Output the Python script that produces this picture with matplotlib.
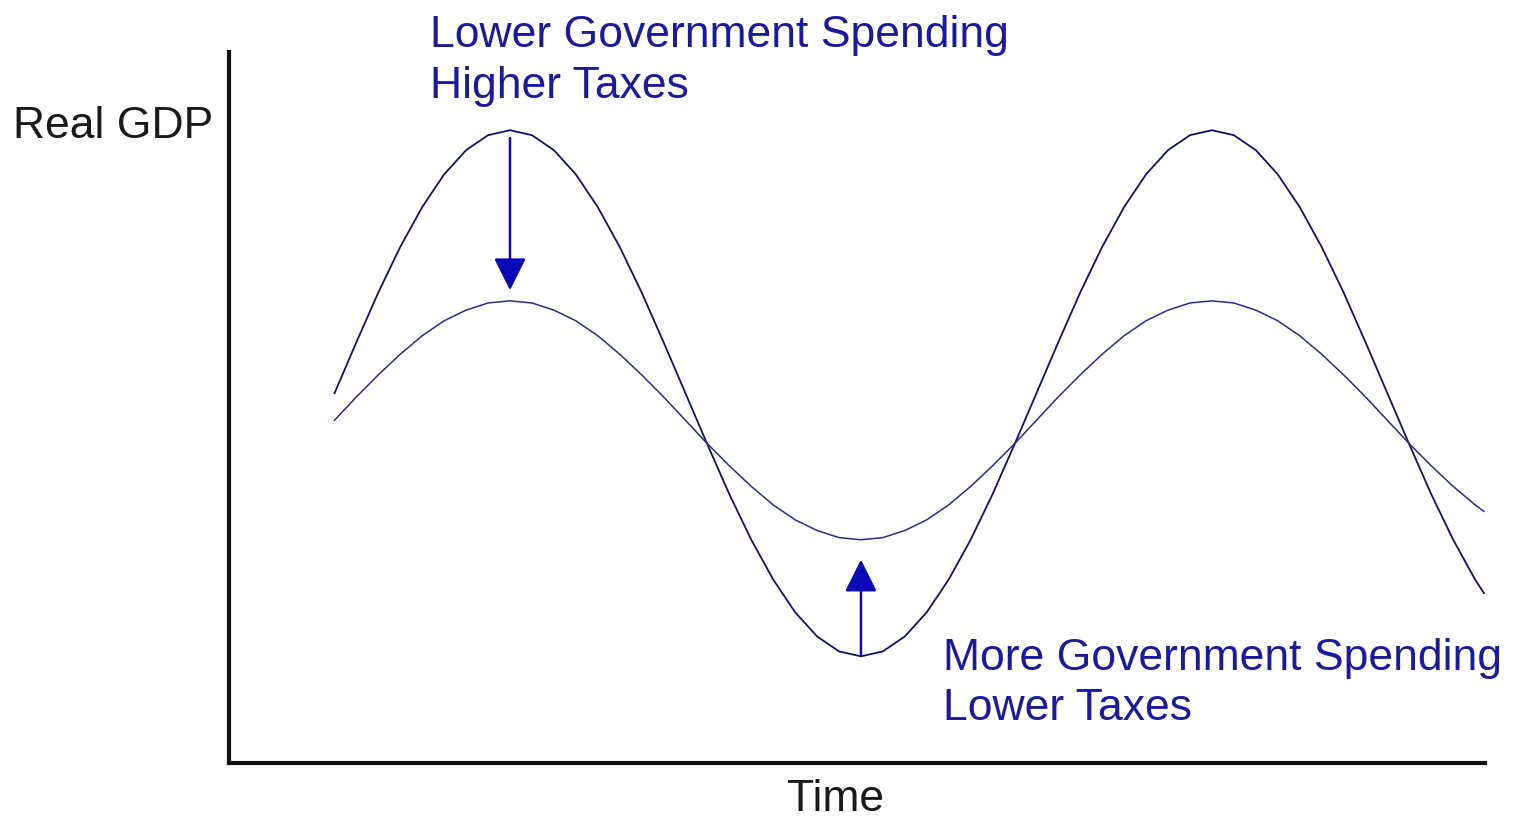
import matplotlib.pyplot as plt

# time steps (1/32 of a cycle each), last point is the right edge of the curve
time = list(range(53)) + [52.4]

# real GDP without stabilisation policy (big swings)
gdp_no_policy = [52.0, 59.2, 66.2, 72.6, 78.2, 82.8, 86.2, 88.3,
                 89.0, 88.3, 86.2, 82.8, 78.2, 72.6, 66.2, 59.2,
                 52.0, 44.8, 37.8, 31.4, 25.8, 21.2, 17.8, 15.7,
                 15.0, 15.7, 17.8, 21.2, 25.8, 31.4, 37.8, 44.8,
                 52.0, 59.2, 66.2, 72.6, 78.2, 82.8, 86.2, 88.3,
                 89.0, 88.3, 86.2, 82.8, 78.2, 72.6, 66.2, 59.2,
                 52.0, 44.8, 37.8, 31.4, 25.8, 23.9]

# real GDP with fiscal policy (smaller swings)
gdp_policy = [48.2, 51.5, 54.6, 57.5, 60.1, 62.2, 63.7, 64.7,
              65.0, 64.7, 63.7, 62.2, 60.1, 57.5, 54.6, 51.5,
              48.2, 44.9, 41.8, 38.9, 36.3, 34.2, 32.7, 31.7,
              31.4, 31.7, 32.7, 34.2, 36.3, 38.9, 41.8, 44.9,
              48.2, 51.5, 54.6, 57.5, 60.1, 62.2, 63.7, 64.7,
              65.0, 64.7, 63.7, 62.2, 60.1, 57.5, 54.6, 51.5,
              48.2, 44.9, 41.8, 38.9, 36.3, 35.4]

text_blue = '#1a1a9c'
arrow_blue = '#0a0ab8'

plt.rcParams['font.family'] = ['Liberation Sans', 'DejaVu Sans']

fig = plt.figure(figsize=(15.16, 8.17), dpi=100)
ax = fig.add_axes([229 / 1516, (817 - 763) / 817, 1256 / 1516, 711 / 817])

ax.plot(time, gdp_no_policy, color='#101068', lw=1.3)
ax.plot(time, gdp_policy, color='#2b2b85', lw=1.1)

ax.set_xlim(-4.81, 52.45)
ax.set_ylim(0, 100)

for s in ['top', 'right']:
    ax.spines[s].set_visible(False)
for s in ['left', 'bottom']:
    ax.spines[s].set_linewidth(3)
    ax.spines[s].set_color('#111111')
ax.set_xticks([])
ax.set_yticks([])

# arrows showing the policy effect
ax.annotate('', xy=(8, 66.5), xytext=(8, 87.9),
            arrowprops=dict(arrowstyle='-|>,head_length=1.0,head_width=0.5',
                            mutation_scale=20, lw=1.8, color=arrow_blue,
                            shrinkA=0, shrinkB=0))
ax.annotate('', xy=(24, 28.6), xytext=(24, 15.2),
            arrowprops=dict(arrowstyle='-|>,head_length=1.0,head_width=0.5',
                            mutation_scale=20, lw=1.8, color=arrow_blue,
                            shrinkA=0, shrinkB=0))

ax.text(4.35, 100.7, 'Lower Government Spending', fontsize=32, color=text_blue,
        va='baseline', ha='left', clip_on=False)
ax.text(4.35, 93.5, 'Higher Taxes', fontsize=32, color=text_blue,
        va='baseline', ha='left', clip_on=False)
ax.text(27.74, 13.1, 'More Government Spending', fontsize=32, color=text_blue,
        va='baseline', ha='left', clip_on=False)
ax.text(27.74, 6.0, 'Lower Taxes', fontsize=32, color=text_blue,
        va='baseline', ha='left', clip_on=False)

ax.text(-0.0127, 0.879, 'Real GDP', fontsize=32, color='#1a1a1a',
        ha='right', va='baseline', transform=ax.transAxes, clip_on=False)
ax.text(0.483, -0.0675, 'Time', fontsize=32, color='#1a1a1a',
        ha='center', va='baseline', transform=ax.transAxes, clip_on=False)

fig.savefig('out.png', dpi=100)
